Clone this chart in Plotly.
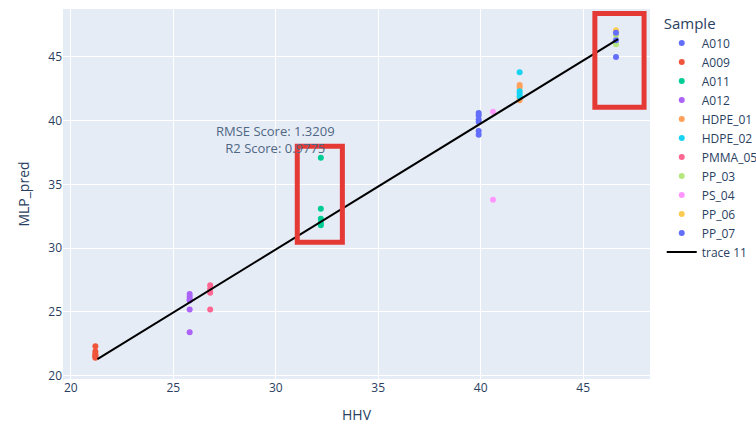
import plotly.graph_objects as go

samples = ["A010", "A009", "A011", "A012", "HDPE_01", "HDPE_02",
           "PMMA_05", "PP_03", "PS_04", "PP_06", "PP_07"]
hhv = {
    "A010": [39.9, 39.9, 39.9, 39.9, 39.9, 39.9],
    "A009": [21.2, 21.2, 21.2, 21.2, 21.2, 21.2],
    "A011": [32.2, 32.2, 32.2, 32.2, 32.2],
    "A012": [25.8, 25.8, 25.8, 25.8, 25.8, 25.8],
    "HDPE_01": [41.9, 41.9, 41.9, 41.9],
    "HDPE_02": [41.9, 41.9, 41.9, 41.9],
    "PMMA_05": [26.8, 26.8, 26.8, 26.8],
    "PP_03": [46.6, 46.6],
    "PS_04": [40.6, 40.6],
    "PP_06": [46.6, 46.6],
    "PP_07": [46.6, 46.6, 46.6],
}
mlp_pred = {
    "A010": [40.6, 40.4, 40.1, 39.9, 39.2, 38.9],
    "A009": [22.3, 21.9, 21.7, 21.6, 21.5, 21.4],
    "A011": [37.1, 33.1, 32.3, 32.0, 31.8],
    "A012": [26.4, 26.2, 26.0, 25.9, 25.2, 23.4],
    "HDPE_01": [42.8, 42.6, 41.8, 41.6],
    "HDPE_02": [43.8, 42.3, 42.1, 41.9],
    "PMMA_05": [27.1, 26.8, 26.5, 25.2],
    "PP_03": [46.7, 46.0],
    "PS_04": [40.7, 33.8],
    "PP_06": [47.1, 46.9],
    "PP_07": [46.9, 46.3, 45.0],
}
colors = ["#636EFA", "#EF553B", "#00CC96", "#AB63FA", "#FFA15A", "#19D3F3",
          "#FF6692", "#B6E880", "#FF97FF", "#FECB52", "#636EFA"]

fit_x = [21.3, 46.7]
fit_y = [21.3, 46.4]

rmse_text = "RMSE Score: 1.3209<br>R2 Score: 0.9775"

fig = go.Figure()
for s, c in zip(samples, colors):
    fig.add_trace(go.Scatter(
        x=hhv[s], y=mlp_pred[s], mode="markers", name=s,
        marker=dict(color=c, size=6), legendgroup=s))

fig.add_trace(go.Scatter(x=fit_x, y=fit_y, mode="lines", name="trace 11",
                         line=dict(color="black", width=2)))

fig.add_annotation(x=30, y=38.55, text=rmse_text, showarrow=False,
                   font=dict(size=13, color="#506784"))

box_color = "#E53935"
fig.add_shape(type="rect", x0=31.05, x1=33.25, y0=30.47, y1=38.0,
              xref="x", yref="y", line=dict(color=box_color, width=5))
fig.add_shape(type="rect", x0=45.57, x1=47.97, y0=41.06, y1=48.4,
              xref="x", yref="y", line=dict(color=box_color, width=5))

fig.update_layout(
    template="plotly",
    width=756, height=424,
    margin=dict(l=63, r=106, t=9, b=45, autoexpand=False),
    legend=dict(title=dict(text="Sample", font=dict(size=15)),
                font=dict(size=12), tracegroupgap=0),
    xaxis=dict(title=dict(text="HHV"), range=[19.62, 48.26],
               dtick=5, zeroline=False),
    yaxis=dict(title=dict(text="MLP_pred"), range=[19.74, 48.76],
               dtick=5, zeroline=False),
)

fig.write_html("out.html")
